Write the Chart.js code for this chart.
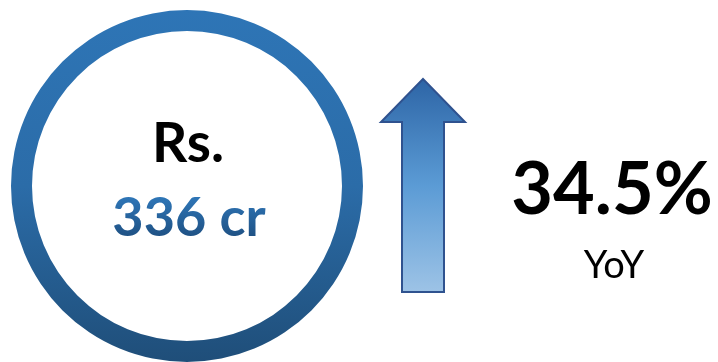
<!DOCTYPE html>
<html>
<head>
<meta charset="utf-8">
<script src="https://cdn.jsdelivr.net/npm/chart.js@4.4.0/dist/chart.umd.min.js"></script>
<style>
html,body{margin:0;padding:0;background:#fff;}
#wrap{position:relative;width:718px;height:362px;}
</style>
</head>
<body>
<div id="wrap"><canvas id="c" width="718" height="362"></canvas></div>
<script>
// Data
const ringLabels = ['Revenue'];
const ringValues = [100];
const centerPrefix = 'Rs.';
const revenueValue = 336;
const revenueUnit = 'cr';
const growthPercent = 34.5;
const growthLabel = 'YoY';

const FONT = 'Lato, "Open Sans", sans-serif';

const infoPlugin = {
  id: 'info',
  afterDraw(chart) {
    const ctx = chart.ctx;
    const meta = chart.getDatasetMeta(0);
    const arc = meta.data[0];
    const cx = arc.x, cy = arc.y;
    ctx.save();
    // center text
    ctx.textAlign = 'center';
    ctx.textBaseline = 'alphabetic';
    ctx.fillStyle = '#000';
    ctx.font = 'bold 55px ' + FONT;
    ctx.fillText(centerPrefix, cx + 1, 162);
    const g = ctx.createLinearGradient(0, 198, 0, 236);
    g.addColorStop(0, '#2E75B6');
    g.addColorStop(1, '#1F5285');
    ctx.fillStyle = g;
    ctx.font = 'bold 54px ' + FONT;
    ctx.fillText(revenueValue + ' ' + revenueUnit, cx + 2, 236);

    // arrow
    const ax = 423, top = 79, headY = 122, bottom = 292, headHalf = 42, shaftHalf = 21;
    ctx.beginPath();
    ctx.moveTo(ax, top);
    ctx.lineTo(ax + headHalf, headY);
    ctx.lineTo(ax + shaftHalf, headY);
    ctx.lineTo(ax + shaftHalf, bottom);
    ctx.lineTo(ax - shaftHalf, bottom);
    ctx.lineTo(ax - shaftHalf, headY);
    ctx.lineTo(ax - headHalf, headY);
    ctx.closePath();
    const ag = ctx.createLinearGradient(0, top, 0, bottom);
    ag.addColorStop(0, '#2D65A6');
    ag.addColorStop(0.5, '#5B9BD5');
    ag.addColorStop(1, '#9DC3E6');
    ctx.fillStyle = ag;
    ctx.fill();
    ctx.lineWidth = 2;
    ctx.strokeStyle = '#2F528F';
    ctx.lineJoin = 'miter';
    ctx.stroke();

    // growth text
    ctx.fillStyle = '#000';
    ctx.font = 'bold 72px ' + FONT;
    ctx.fillText(growthPercent.toFixed(1) + '%', 612, 214);
    ctx.font = '38px ' + FONT;
    ctx.fillText(growthLabel, 614, 278);
    ctx.restore();
  }
};

new Chart(document.getElementById('c'), {
  type: 'doughnut',
  data: {
    labels: ringLabels,
    datasets: [{
      data: ringValues,
      borderWidth: 0,
      backgroundColor: (context) => {
        const ca = context.chart.chartArea;
        if (!ca) return '#2E75B6';
        const gr = context.chart.ctx.createLinearGradient(0, ca.top, 0, ca.bottom);
        gr.addColorStop(0, '#2E75B6');
        gr.addColorStop(0.5, '#2B6CA8');
        gr.addColorStop(1, '#1F4E79');
        return gr;
      },
      hoverOffset: 0
    }]
  },
  options: {
    responsive: false,
    animation: false,
    cutout: 155,
    layout: { padding: { left: 11, right: 355, top: 10, bottom: 0 } },
    plugins: { legend: { display: false }, tooltip: { enabled: false } },
    events: []
  },
  plugins: [infoPlugin]
});
</script>
</body>
</html>
